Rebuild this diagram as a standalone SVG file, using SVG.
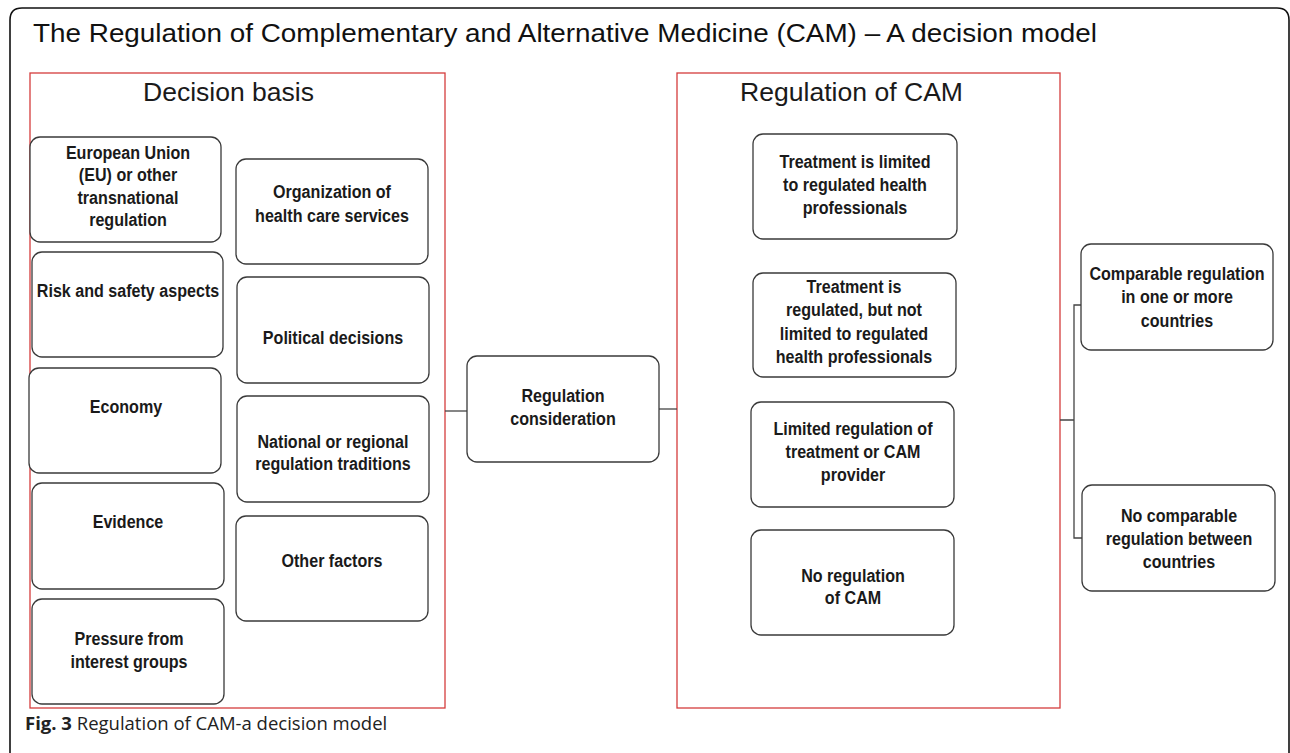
<svg xmlns="http://www.w3.org/2000/svg" width="1290" height="753" viewBox="0 0 1290 753">
<style>
.frame{fill:none;stroke:#111;stroke-width:1.6}
.panel{fill:none;stroke:#d43c3c;stroke-width:1.3}
.box{fill:#fff;stroke:#3a3a3a;stroke-width:1.3}
.conn{fill:none;stroke:#444;stroke-width:1.3}
.t{font-family:"Liberation Sans",Arial,sans-serif;font-weight:bold;font-size:18.5px;fill:#1a1a1a;text-anchor:middle}
.h{font-family:"Liberation Sans",Arial,sans-serif;font-size:26.5px;fill:#1a1a1a}
.ttl{font-family:"Liberation Sans",Arial,sans-serif;font-size:25px;fill:#111}
.cap{font-family:"Open Sans","Noto Sans",sans-serif;font-size:18.5px;fill:#222}
</style>
<rect width="1290" height="753" fill="#fff"/>
<path class="frame" d="M10,760 L10,20 Q10,8 22,8 L1277,8 Q1289,8 1289,20 L1289,760"/>
<text class="ttl" x="33" y="42" textLength="1064" lengthAdjust="spacingAndGlyphs">The Regulation of Complementary and Alternative Medicine (CAM) – A decision model</text>

<g id="panel-decision-basis">
<rect class="panel" x="30" y="73" width="415" height="635"/>
<text class="h" x="143" y="101" textLength="171" lengthAdjust="spacingAndGlyphs">Decision basis</text>
</g>
<g id="panel-regulation">
<rect class="panel" x="677" y="73" width="383" height="635"/>
<text class="h" x="740" y="101" textLength="223" lengthAdjust="spacingAndGlyphs">Regulation of CAM</text>
</g>

<g id="connectors">
<line class="conn" x1="445" y1="411" x2="467" y2="411"/>
<line class="conn" x1="659" y1="409" x2="677" y2="409"/>
<path class="conn" d="M1060,420 H1074 M1081,305 H1074 V538 H1082"/>
</g>

<g id="n-eu"><rect class="box" x="30" y="137" width="191" height="105" rx="10"/>
<text class="t" transform="matrix(0.87 0 0 1 128 0)"><tspan x="0" y="159">European Union</tspan><tspan x="0" y="181">(EU) or other</tspan><tspan x="0" y="204">transnational</tspan><tspan x="0" y="226">regulation</tspan></text></g>
<g id="n-risk"><rect class="box" x="32" y="252" width="191" height="105" rx="10"/>
<text class="t" transform="matrix(0.87 0 0 1 128 0)"><tspan x="0" y="297">Risk and safety aspects</tspan></text></g>
<g id="n-economy"><rect class="box" x="29" y="368" width="192" height="105" rx="10"/>
<text class="t" transform="matrix(0.87 0 0 1 126 0)"><tspan x="0" y="413">Economy</tspan></text></g>
<g id="n-evidence"><rect class="box" x="32" y="483" width="192" height="106" rx="10"/>
<text class="t" transform="matrix(0.87 0 0 1 128 0)"><tspan x="0" y="528">Evidence</tspan></text></g>
<g id="n-pressure"><rect class="box" x="32" y="599" width="192" height="105" rx="10"/>
<text class="t" transform="matrix(0.87 0 0 1 129 0)"><tspan x="0" y="645">Pressure from</tspan><tspan x="0" y="668">interest groups</tspan></text></g>

<g id="n-org"><rect class="box" x="236" y="159" width="192" height="105" rx="10"/>
<text class="t" transform="matrix(0.87 0 0 1 332 0)"><tspan x="0" y="198">Organization of</tspan><tspan x="0" y="222">health care services</tspan></text></g>
<g id="n-political"><rect class="box" x="237" y="277" width="192" height="106" rx="10"/>
<text class="t" transform="matrix(0.87 0 0 1 333 0)"><tspan x="0" y="344">Political decisions</tspan></text></g>
<g id="n-national"><rect class="box" x="237" y="396" width="192" height="106" rx="10"/>
<text class="t" transform="matrix(0.87 0 0 1 333 0)"><tspan x="0" y="448">National or regional</tspan><tspan x="0" y="470">regulation traditions</tspan></text></g>
<g id="n-other"><rect class="box" x="236" y="516" width="192" height="105" rx="10"/>
<text class="t" transform="matrix(0.87 0 0 1 332 0)"><tspan x="0" y="567">Other factors</tspan></text></g>

<g id="n-consideration"><rect class="box" x="467" y="356" width="192" height="106" rx="10"/>
<text class="t" transform="matrix(0.87 0 0 1 563 0)"><tspan x="0" y="402">Regulation</tspan><tspan x="0" y="425">consideration</tspan></text></g>

<g id="n-limited-prof"><rect class="box" x="753" y="134" width="204" height="105" rx="10"/>
<text class="t" transform="matrix(0.87 0 0 1 855 0)"><tspan x="0" y="168">Treatment is limited</tspan><tspan x="0" y="191">to regulated health</tspan><tspan x="0" y="214">professionals</tspan></text></g>
<g id="n-regulated"><rect class="box" x="753" y="273" width="203" height="104" rx="10"/>
<text class="t" transform="matrix(0.87 0 0 1 854 0)"><tspan x="0" y="293">Treatment is</tspan><tspan x="0" y="316">regulated, but not</tspan><tspan x="0" y="340">limited to regulated</tspan><tspan x="0" y="363">health professionals</tspan></text></g>
<g id="n-limited-reg"><rect class="box" x="751" y="402" width="203" height="105" rx="10"/>
<text class="t" transform="matrix(0.87 0 0 1 853 0)"><tspan x="0" y="435">Limited regulation of</tspan><tspan x="0" y="458">treatment or CAM</tspan><tspan x="0" y="481">provider</tspan></text></g>
<g id="n-no-reg"><rect class="box" x="751" y="530" width="203" height="105" rx="10"/>
<text class="t" transform="matrix(0.87 0 0 1 853 0)"><tspan x="0" y="582">No regulation</tspan><tspan x="0" y="604">of CAM</tspan></text></g>

<g id="n-comparable"><rect class="box" x="1081" y="244" width="192" height="106" rx="10"/>
<text class="t" transform="matrix(0.87 0 0 1 1177 0)"><tspan x="0" y="280">Comparable regulation</tspan><tspan x="0" y="303">in one or more</tspan><tspan x="0" y="327">countries</tspan></text></g>
<g id="n-no-comparable"><rect class="box" x="1082" y="485" width="193" height="106" rx="10"/>
<text class="t" transform="matrix(0.87 0 0 1 1179 0)"><tspan x="0" y="522">No comparable</tspan><tspan x="0" y="545">regulation between</tspan><tspan x="0" y="568">countries</tspan></text></g>

<text class="cap" x="25" y="730"><tspan font-weight="bold">Fig. 3</tspan> Regulation of CAM-a decision model</text>
</svg>
